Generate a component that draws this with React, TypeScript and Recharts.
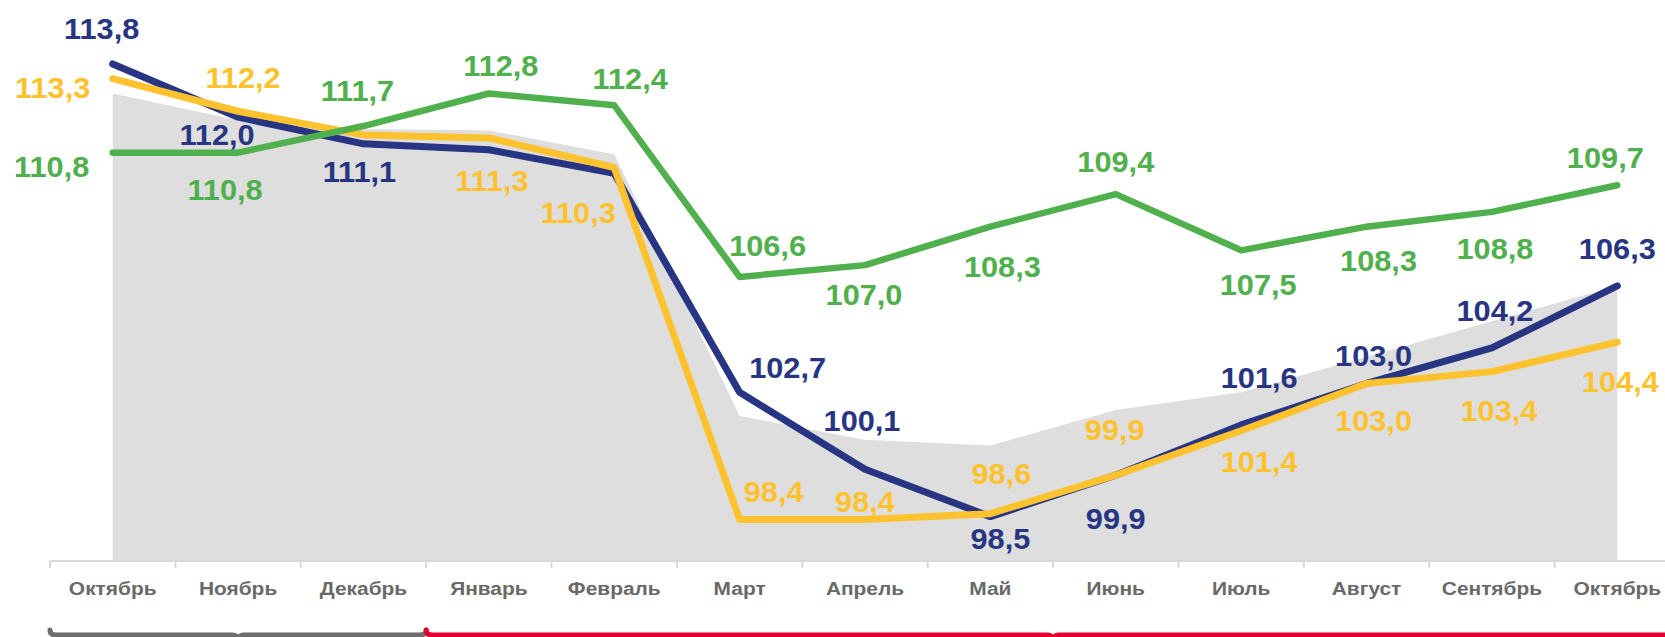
import React from "react";
import { ComposedChart, Area, Line, XAxis, YAxis, LabelList } from "recharts";

// помесячные индексы, октябрь прошлого года -> октябрь текущего
const months = [
  "Октябрь", "Ноябрь", "Декабрь", "Январь", "Февраль", "Март", "Апрель",
  "Май", "Июнь", "Июль", "Август", "Сентябрь", "Октябрь",
];
const blueValues = [113.8, 112.0, 111.1, 110.9, 110.1, 102.7, 100.1, 98.5, 99.9, 101.6, 103.0, 104.2, 106.3];
const yellowValues = [113.3, 112.2, 111.4, 111.3, 110.3, 98.4, 98.4, 98.6, 99.9, 101.4, 103.0, 103.4, 104.4];
const greenValues = [110.8, 110.8, 111.7, 112.8, 112.4, 106.6, 107.0, 108.3, 109.4, 107.5, 108.3, 108.8, 109.7];
const greyValues = [112.8, 111.9, 111.6, 111.55, 110.75, 101.9, 101.1, 100.9, 102.1, 102.7, 103.9, 105.1, 106.3];
const yDomain = [97, 114];

const data = months.map((m, i) => ({
  month: m,
  grey: greyValues[i],
  blue: blueValues[i],
  yellow: yellowValues[i],
  green: greenValues[i],
}));

// смещения подписей относительно точки (null = без подписи)
type Off = [number, number] | null;
const blueOffsets: Off[] = [[-11, -35], [-21, 18], [-4, 28], null, null, [48, -25], [-3, -48], [10, 22], [0, 44], [18, -47], [7, -28], [3, -37], [0, -37]];
const yellowOffsets: Off[] = [[-60, 9], [5, -33], null, [3, 43], [-36, 45], [34, -28], [0, -18], [11, -40], [-1, -45], [18, 31], [7, 37], [7, 39], [3, 40]];
const greenOffsets: Off[] = [[-61, 14], [-13, 37], [-6, -35], [12, -28], [16, -27], [28, -31], [-1, 30], [12, 40], [0, -32], [17, 34], [12, 34], [3, 37], [-12, -27]];

const BLUE = "#283583";
const YELLOW = "#fec22f";
const GREEN = "#50b04d";
const FONT = "'Liberation Sans', Arial, sans-serif";

const W = 1680;
const H = 637;
const MARGIN = { top: 58, right: 0, bottom: 36, left: 50 };
const BAND = (W - MARGIN.left - MARGIN.right) / months.length;
const HALF = BAND / 2;

const fmt = (v: number) => v.toFixed(1).replace(".", ",");

const makeLabel = (color: string, offsets: Off[]) => (props: any) => {
  const { index, value } = props;
  const off = offsets[index];
  if (!off) return null;
  const x = props.viewBox?.x ?? props.x;
  const y = props.viewBox?.y ?? props.y;
  return (
    <text
      transform={`translate(${x + off[0]},${y + off[1]}) scale(1.06,1)`}
      textAnchor="middle"
      dominantBaseline="central"
      fill={color}
      fontSize={29}
      fontWeight="bold"
      fontFamily={FONT}
    >
      {fmt(Number(value))}
    </text>
  );
};

const CategoryTick = (props: any) => {
  const { x, y, payload, index } = props;
  return (
    <g>
      <line x1={x - HALF} x2={x - HALF} y1={y} y2={y + 7} stroke="#d9d9d9" strokeWidth={2} />
      {index === months.length - 1 && (
        <line x1={x + HALF} x2={x + HALF} y1={y} y2={y + 7} stroke="#d9d9d9" strokeWidth={2} />
      )}
      <text
        transform={`translate(${x},${y + 27}) scale(1.1,1)`}
        textAnchor="middle"
        dominantBaseline="central"
        fill="#696969"
        fontSize={19}
        fontWeight="bold"
        fontFamily={FONT}
      >
        {payload.value}
      </text>
    </g>
  );
};

// фигурные скобки внизу (периоды)
const Brace = ({ x1, x2, color }: { x1: number; x2: number; color: string }) => {
  const mid = (x1 + x2) / 2;
  const d = `M ${x1} 630 Q ${x1} 635 ${x1 + 6} 635 L ${mid - 6} 635 Q ${mid} 635 ${mid} 641 Q ${mid} 635 ${mid + 6} 635 L ${x2 - 6} 635 Q ${x2} 635 ${x2} 630`;
  return <path d={d} stroke={color} strokeWidth={5} fill="none" strokeLinecap="round" />;
};

export default function App() {
  const split = MARGIN.left + 3 * BAND;
  return (
    <div style={{ position: "absolute", left: 0, top: 0, width: 1665, height: 637, overflow: "hidden", background: "#fff" }}>
      <ComposedChart width={W} height={H} data={data} margin={MARGIN}>
        <XAxis
          dataKey="month"
          padding={{ left: HALF, right: HALF }}
          height={40}
          tickSize={0}
          tickMargin={0}
          tickLine={false}
          axisLine={{ stroke: "#d9d9d9", strokeWidth: 2 }}
          tick={<CategoryTick />}
          interval={0}
        />
        <YAxis hide domain={yDomain} allowDataOverflow type="number" />
        <Area
          dataKey="grey"
          type="linear"
          stroke="none"
          fill="#dedede"
          fillOpacity={1}
          baseValue="dataMin"
          isAnimationActive={false}
        />
        <Line dataKey="blue" type="linear" stroke={BLUE} strokeWidth={7} strokeLinecap="round" strokeLinejoin="round" dot={false} activeDot={false} isAnimationActive={false}>
          <LabelList dataKey="blue" content={makeLabel(BLUE, blueOffsets)} />
        </Line>
        <Line dataKey="yellow" type="linear" stroke={YELLOW} strokeWidth={7} strokeLinecap="round" strokeLinejoin="round" dot={false} activeDot={false} isAnimationActive={false}>
          <LabelList dataKey="yellow" content={makeLabel(YELLOW, yellowOffsets)} />
        </Line>
        <Line dataKey="green" type="linear" stroke={GREEN} strokeWidth={6.5} strokeLinecap="round" strokeLinejoin="round" dot={false} activeDot={false} isAnimationActive={false}>
          <LabelList dataKey="green" content={makeLabel(GREEN, greenOffsets)} />
        </Line>
      </ComposedChart>
      <svg width={1665} height={637} style={{ position: "absolute", left: 0, top: 0, pointerEvents: "none" }}>
        <Brace x1={MARGIN.left} x2={split} color="#6e6e6e" />
        <Brace x1={split} x2={MARGIN.left + months.length * BAND} color="#e4032e" />
      </svg>
    </div>
  );
}
